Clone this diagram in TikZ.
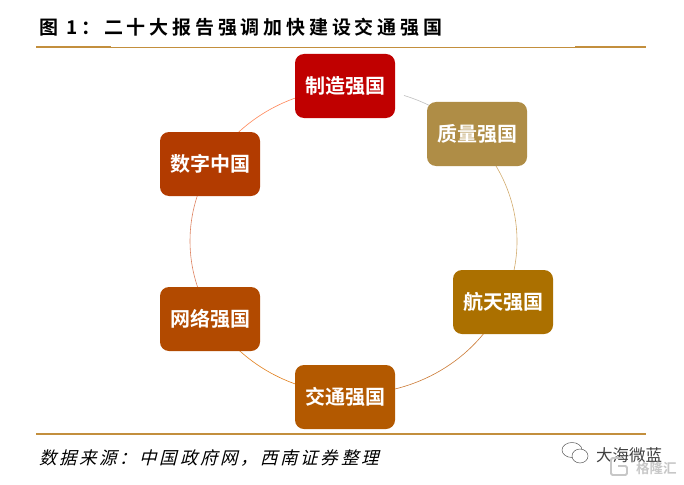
\documentclass[tikz,border=0pt]{standalone}
\usepackage{fontspec}
\usetikzlibrary{calc}
\setmainfont{Noto Sans CJK SC}
\newfontfamily\cnbold{Noto Sans CJK SC Bold}
\newfontfamily\cntitle[LetterSpace=20]{Noto Sans CJK SC Bold}
\newfontfamily\cnslant[FakeSlant=0.25,LetterSpace=15]{Noto Sans CJK SC}
\definecolor{rulegold}{HTML}{C38F3D}
\newcommand{\ringpart}[3]{\draw[ringarc,color=#1] ($(ring)+(#2:163.5 and 153)$) arc[start angle=#2,end angle=#3,x radius=163.5,y radius=153];}
\tikzset{
  x=1pt,y=-1pt,
  petal/.style={draw=none,rounded corners=9pt,minimum width=100pt,minimum height=64pt,inner sep=0pt,
    text=white,font=\cnbold\fontsize{20}{20}\selectfont},
  ringarc/.style={line width=0.6pt},
}
\begin{document}
\begin{tikzpicture}
\useasboundingbox (0,0) rectangle (684,484);
\fill[white] (0,0) rectangle (684,484);
\coordinate (ring) at (353.5,241);
% rules
\coordinate (t0) at (36,47.5); \coordinate (t1) at (646,47.5);
\draw[rulegold,line width=0.8pt] (t0) -- (t1);
\draw[rulegold,line width=2pt] (36,47.5) -- (111,47.5);
\draw[rulegold,line width=2pt] (575,47.5) -- (646,47.5);
\draw[rulegold,line width=2pt] (36,434) -- (646,434);
% title and source
\node[anchor=west,inner sep=0pt,font=\cntitle\fontsize{19}{19}\selectfont] (title) at (39,27.5)
  {图 1：二十大报告强调加快建设交通强国};
\node[anchor=west,inner sep=0pt,font=\cnslant\fontsize{17.5}{17.5}\selectfont] (source) at (39,458)
  {数据来源：中国政府网，西南证券整理};
% ring
\ringpart{black!25}{-72}{-60}
\ringpart{rulegold!75}{-52}{20}
\ringpart{rulegold!85!red}{30}{78}
\ringpart{orange!55!brown}{100}{150}
\ringpart{red!30!brown!75}{150}{210}
\ringpart{red!45!orange!65}{210}{252}
% nodes
\node[petal,fill={rgb,255:red,192;green,0;blue,0}] (n1) at (345,86) {制造强国};
\node[petal,fill={rgb,255:red,175;green,141;blue,70}] (n2) at (477,134) {质量强国};
\node[petal,fill={rgb,255:red,171;green,112;blue,0}] (n3) at (503,302) {航天强国};
\node[petal,fill={rgb,255:red,179;green,89;blue,0}] (n4) at (345,397) {交通强国};
\node[petal,fill={rgb,255:red,178;green,74;blue,0}] (n5) at (210,319) {网络强国};
\node[petal,fill={rgb,255:red,178;green,59;blue,0}] (n6) at (210,164) {数字中国};
% watermark
\draw[black!65,line width=0.5pt] (572,450) ellipse[x radius=10,y radius=7.5];
\draw[black!65,line width=0.5pt,fill=white] (580,456) ellipse[x radius=8,y radius=7];
\node[anchor=west,inner sep=0pt,text=black!75,font=\fontsize{16.5}{16.5}\selectfont] (wm1) at (596,455) {大海微蓝};
\node[anchor=west,inner sep=0pt,text=black!22,font=\cnbold\fontsize{13.5}{13.5}\selectfont] (wm2) at (636,468) {格隆汇};
\draw[black!22,line width=1.8pt,rounded corners=1.5pt] (622,458) -- (611,458) -- (611,475) -- (627,475) -- (627,466) -- (618,466);
\end{tikzpicture}
\end{document}
